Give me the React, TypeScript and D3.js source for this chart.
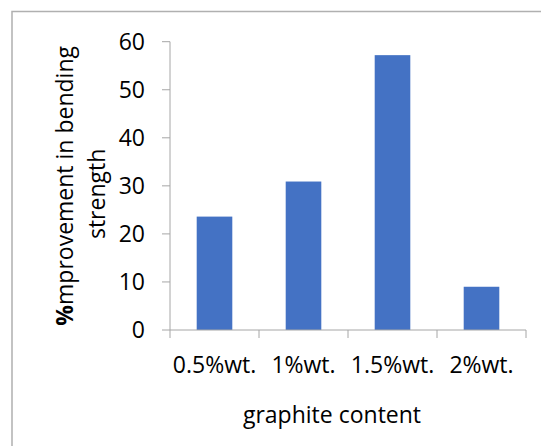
import React from "react";
import * as d3 from "d3";

const categories = ["0.5%wt.", "1%wt.", "1.5%wt.", "2%wt."];
const values = [23.6, 30.9, 57.2, 9.0];
const yTicks = [0, 10, 20, 30, 40, 50, 60];
const yTitleLine1Bold = "%";
const yTitleLine1Rest = "mprovement in bending";
const yTitleLine2 = "strength";
const xTitle = "graphite content";

export default function App() {
  const W = 541;
  const H = 446;
  const left = 170;
  const right = 526;
  const top = 41.7;
  const bottom = 330;
  const font = "'Open Sans', sans-serif";
  const axisColor = "#a6a6a6";

  const x = d3.scaleBand<string>().domain(categories).range([left, right]).paddingInner(0.6).paddingOuter(0.3);
  const y = d3.scaleLinear().domain([0, 60]).range([bottom, top]);
  const band = (right - left) / categories.length;
  const yMid = (top + bottom) / 2;

  return (
    <svg width={W} height={H} style={{ position: "absolute", left: 0, top: 0 }}>
      <rect x={0} y={0} width={W} height={H} fill="#fff" />
      <rect x={12} y={11.5} width={W} height={H} fill="#fff" stroke="#b0b0b0" strokeWidth={1.5} />
      {values.map((v, i) => (
        <rect
          key={i}
          x={x(categories[i])}
          y={y(v)}
          width={x.bandwidth()}
          height={y(0) - y(v)}
          fill="#4472C4"
        />
      ))}
      <line x1={left} x2={left} y1={top} y2={bottom} stroke={axisColor} strokeWidth={1} />
      <line x1={left} x2={right} y1={bottom} y2={bottom} stroke={axisColor} strokeWidth={1} />
      {yTicks.map((t) => (
        <g key={t}>
          <line x1={left - 8} x2={left} y1={y(t)} y2={y(t)} stroke={axisColor} strokeWidth={1} />
          <text x={145} y={y(t)} dy="0.36em" textAnchor="end" fontFamily={font} fontSize={23} fill="#000">
            {t}
          </text>
        </g>
      ))}
      {d3.range(categories.length + 1).map((i) => (
        <line key={i} x1={left + i * band} x2={left + i * band} y1={bottom} y2={bottom + 8} stroke={axisColor} strokeWidth={1} />
      ))}
      {categories.map((c) => (
        <text key={c} x={(x(c) as number) + x.bandwidth() / 2} y={373} textAnchor="middle" fontFamily={font} fontSize={23} fill="#000">
          {c}
        </text>
      ))}
      <text x={332} y={423} textAnchor="middle" fontFamily={font} fontSize={23} fill="#000">
        {xTitle}
      </text>
      <text transform={`translate(73,${yMid}) rotate(-90)`} textAnchor="middle" fontFamily={font} fontSize={23} fill="#000">
        <tspan fontWeight="bold">{yTitleLine1Bold}</tspan>
        <tspan>{yTitleLine1Rest}</tspan>
      </text>
      <text transform={`translate(105,${yMid + 8}) rotate(-90)`} textAnchor="middle" fontFamily={font} fontSize={23} fill="#000">
        {yTitleLine2}
      </text>
    </svg>
  );
}
